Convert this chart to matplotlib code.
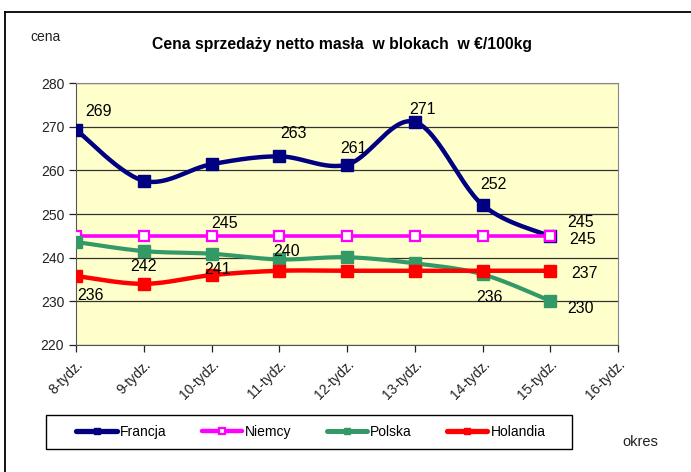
import numpy as np
import matplotlib
matplotlib.use("Agg")
import matplotlib.pyplot as plt
from matplotlib.lines import Line2D
from matplotlib.patches import Rectangle

plt.rcParams['font.family'] = ['Liberation Sans', 'DejaVu Sans']

categories = ["8-tydz.", "9-tydz.", "10-tydz.", "11-tydz.", "12-tydz.",
              "13-tydz.", "14-tydz.", "15-tydz.", "16-tydz."]
francja = [269.3, 257.6, 261.4, 263.2, 261.3, 271.1, 252.1, 244.9]
niemcy = [245, 245, 245, 245, 245, 245, 245, 245]
polska = [243.6, 241.5, 240.9, 239.6, 240.1, 238.7, 236.2, 230.1]
holandia = [235.8, 234.0, 236.0, 237.0, 237.0, 237.0, 237.0, 237.0]
yticks = [220, 230, 240, 250, 260, 270, 280]

W, H = 691, 472
fig = plt.figure(figsize=(W / 100, H / 100), dpi=100)
ax = fig.add_axes([76 / W, 1 - 345 / H, (618 - 76) / W, (345 - 83) / H])
ax.set_facecolor('#FFFFCC')


def smooth(vals, n=30):
    x = np.arange(len(vals), dtype=float)
    y = np.asarray(vals, dtype=float)
    P = np.column_stack([x, y])
    out = [P[0]]
    for i in range(len(P) - 1):
        p0 = P[i - 1] if i > 0 else P[i]
        p1 = P[i]
        p2 = P[i + 1]
        p3 = P[i + 2] if i + 2 < len(P) else P[i + 1]
        c1 = p1 + (p2 - p0) / 6.0
        c2 = p2 - (p3 - p1) / 6.0
        t = np.linspace(0, 1, n)[1:, None]
        seg = ((1 - t) ** 3) * p1 + 3 * ((1 - t) ** 2) * t * c1 + 3 * (1 - t) * t ** 2 * c2 + t ** 3 * p2
        out.extend(seg)
    out = np.array(out)
    return out[:, 0], out[:, 1]


series = [
    ("Francja", francja, '#000080', dict(marker='s', mfc='#000080', mec='#000080', ms=8.5), 3.2),
    ("Niemcy", niemcy, '#FF00FF', dict(marker='s', mfc='white', mec='#FF00FF', ms=7.5, mew=1.6), 2.6),
    ("Polska", polska, '#339966', dict(marker='s', mfc='#339966', mec='#339966', ms=8), 3.0),
    ("Holandia", holandia, '#FF0000', dict(marker='s', mfc='#FF0000', mec='#FF0000', ms=8.5), 3.2),
]

handles = []
for z, (name, vals, col, mk, lw) in enumerate(series):
    sx, sy = smooth(vals)
    ax.plot(sx, sy, color=col, lw=lw, zorder=3 + z, solid_capstyle='round')
    ax.plot(np.arange(len(vals)), vals, linestyle='none', zorder=3 + z + 0.5, **mk)
    hk = dict(mk)
    hk['ms'] = mk['ms'] * 0.55
    handles.append(Line2D([0], [0], color=col, lw=lw + 0.6, solid_capstyle='round', **hk))

# data labels: (series values, index, dx px, dy px)
labels = [
    (francja, 0, 23, 18), (francja, 3, 14, 23), (francja, 4, 6, 16),
    (francja, 5, 8, 12), (francja, 6, 11, 20), (francja, 7, 30, 14),
    (niemcy, 2, 13, 12), (niemcy, 7, 32, -4),
    (polska, 1, 0, -15), (polska, 2, 6, -16), (polska, 3, 7, 8),
    (polska, 6, 7, -23), (polska, 7, 30, -8),
    (holandia, 0, 14, -19), (holandia, 7, 34, -3),
]
for vals, i, dx, dy in labels:
    ax.annotate(f"{round(vals[i]):d}", (i, vals[i]), xytext=(dx, dy),
                textcoords='offset pixels', ha='center', va='center',
                fontsize=11.5, color='black', zorder=10)

ax.set_xlim(0, 8)
ax.set_ylim(220, 280)
ax.set_yticks(yticks)
ax.set_xticks(range(len(categories)))
ax.set_xticklabels(categories, rotation=45, ha='right', va='top', rotation_mode='anchor')
ax.tick_params(axis='both', labelsize=10, colors='#222222', length=5, width=0.9)
ax.tick_params(axis='x', pad=4)
ax.grid(axis='y', color='#333333', lw=0.9)
ax.set_axisbelow(True)
for s in ['left', 'bottom']:
    ax.spines[s].set_color('#555555')
for s in ['top', 'right']:
    ax.spines[s].set_color('#888888')

fig.text(152 / W, 1 - 44 / H, "Cena sprzedaży netto masła  w blokach  w €/100kg",
         fontsize=11.3, fontweight='bold', va='center', ha='left')
fig.text(30 / W, 1 - 37 / H, "cena", fontsize=10, va='center', ha='left', color='#222222')
fig.text(622 / W, 1 - 442 / H, "okres", fontsize=10.5, va='center', ha='left', color='#222222')

# outer frame
fig.add_artist(Line2D([5 / W, 5 / W], [0, 1 - 12 / H], color='black', lw=1.3))
fig.add_artist(Line2D([5 / W, 1], [1 - 12 / H, 1 - 12 / H], color='black', lw=1.3))

# legend box
fig.add_artist(Rectangle((46 / W, 1 - 449 / H), (572 - 46) / W, 34 / H,
                         transform=fig.transFigure, fill=False, edgecolor='black', lw=1.0))
leg = fig.legend(handles, ["Francja", "Niemcy", "Polska", "Holandia"], ncol=4,
                 loc='center', bbox_to_anchor=(311 / W, 1 - 432 / H),
                 frameon=False, fontsize=10, handlelength=2.9, handletextpad=0.25,
                 columnspacing=2.5, borderpad=0.2)

fig.savefig("out.png", dpi=100)
